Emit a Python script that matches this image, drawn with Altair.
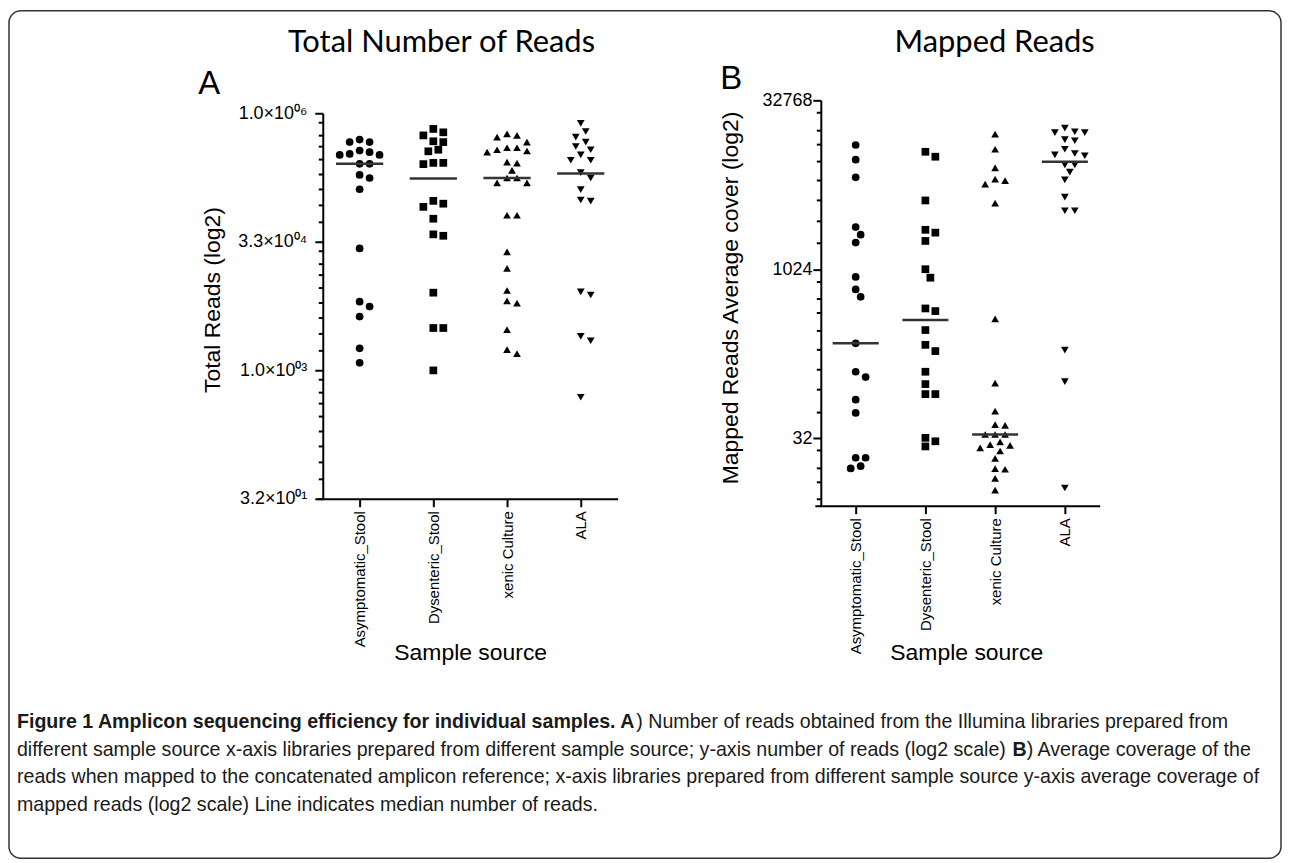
import math
import altair as alt
import pandas as pd

# ---------------- data ----------------
categories = ["Asymptomatic_Stool", "Dysenteric_Stool", "xenic Culture", "ALA"]
shapes = ["circle", "square", "triangle-up", "triangle-down"]

# Panel A: total number of reads
asym_A = [516000, 482000, 482000, 383000, 367000, 350000, 341000, 341000, 268000, 268000,
          199000, 183000, 135000, 27400, 6500, 5700, 4360, 1850, 1250]
dys_A = [687000, 627000, 577000, 492000, 482000, 392000, 376000, 275000, 275000, 266000,
         98700, 91500, 84000, 61000, 40000, 38500, 8300, 3200, 3200, 1020]
xen_A = [602000, 577000, 550000, 482000, 414000, 414000, 392000, 379000, 367000, 281000,
         273000, 225000, 183000, 183000, 160000, 160000, 67000, 67000, 25000, 16000,
         8800, 6650, 6250, 3060, 1790, 1600]
ala_A = [800000, 641000, 550000, 482000, 428000, 392000, 341000, 295000, 295000, 211000,
         183000, 134000, 101000, 98000, 8500, 7800, 2550, 2270, 494]
median_A = [268000, 180000, 183000, 206000]

# Panel B: mapped reads average cover
asym_B = [13100, 9700, 6750, 2430, 2080, 1770, 874, 676, 582, 224, 125, 112, 70.5, 53.7,
          21.4, 21.4, 18, 17.2]
dys_B = [11400, 10300, 4200, 2300, 2170, 1830, 1024, 861, 458, 434, 294, 217, 191, 125,
         97, 79, 79, 32.2, 30, 27]
xen_B = [16400, 12000, 8200, 6500, 6300, 5870, 3980, 370, 99, 55.7, 42.3, 41.6, 34.5, 34.5,
         34.5, 29.7, 28, 27.6, 26.2, 24.6, 21.1, 17.1, 16.9, 14.0, 11.0]
ala_B = [18500, 17200, 16900, 16900, 14600, 14300, 12000, 11000, 10700, 10500, 8700, 8700,
         7500, 6400, 4500, 3400, 3400, 195, 102, 11.5]
median_B = [224, 362, 34.5, 9300]

# axis ticks
major_A = [32, 1024, 32768, 1048576]
major_A_labels = ["3.2×10⁰¹", "1.0×10⁰³", "3.3×10⁰⁴", "1.0×10⁰⁶"]
major_B = [32, 1024, 32768]
major_B_labels = ["32", "1024", "32768"]
minor_steps = [0.36, 0.87, 1.29, 1.80, 2.36, 2.95, 3.56, 4.23]

title_A = "Total Number of Reads"
title_B = "Mapped Reads"
ytitle_A = "Total Reads (log2)"
ytitle_B = "Mapped Reads Average cover (log2)"
xtitle = "Sample source"

caption_lines = [
    [("Figure 1 Amplicon sequencing efficiency for individual samples. A", True),
     (") Number of reads obtained from the Illumina libraries prepared from", False)],
    [("different sample source x-axis libraries prepared from different sample source; "
      "y-axis number of reads (log2 scale) ", False),
     ("B", True),
     (") Average coverage of the", False)],
    [("reads when mapped to the concatenated amplicon reference; x-axis libraries prepared "
      "from different sample source y-axis average coverage of", False)],
    [("mapped reads (log2 scale) Line indicates median number of reads.", False)],
]

# ---------------- layout ----------------
W, H = 1277, 851
FONT = "Liberation Sans"
STUB = 6.0   # px: x axis starts a little left of the y axis, as in the figure

A_xr = [315, 611]
A_yr = [490, 103]
A_dom = [32, 2 ** 20]
B_xr = [815, 1095]
B_yr = [497, 90]
B_dom = [8, 2 ** 15]


def swarm(vals, ypix, unit_px, diam=8.5, step=5.0):
    order = sorted(range(len(vals)), key=lambda i: ypix(vals[i]))
    cands = [0.0] + [s * k * step for k in range(1, 30) for s in (1, -1)]
    placed, offs = [], [0.0] * len(vals)
    for i in order:
        y = ypix(vals[i])
        for c in cands:
            if all((c - px) ** 2 + (y - py) ** 2 >= diam ** 2 for py, px in placed):
                break
        placed.append((y, c))
        offs[i] = c / unit_px
    return offs


def build(groups, dom, yr, xr):
    lo, hi = math.log2(dom[0]), math.log2(dom[1])
    ypix = lambda v: yr[0] + (math.log2(v) - lo) / (hi - lo) * (yr[1] - yr[0])
    unit = (xr[1] - xr[0]) / 4.0
    rows = []
    for k, (cat, vals) in enumerate(zip(categories, groups)):
        offs = swarm(vals, ypix, unit)
        for v, o in zip(vals, offs):
            rows.append({"cat": cat, "value": v, "xpos": k + o})
    return pd.DataFrame(rows)


dfA = build([asym_A, dys_A, xen_A, ala_A], A_dom, A_yr, A_xr)
dfB = build([asym_B, dys_B, xen_B, ala_B], B_dom, B_yr, B_xr)


def minor_values(majors, dom):
    lo, hi = math.log2(dom[0]), math.log2(dom[1])
    return [float(2.0 ** (m - s)) for m in [math.log2(v) for v in majors]
            for s in minor_steps if lo <= m - s <= hi]


def median_frame(medians, half):
    return pd.DataFrame([{"yv": float(m), "x1": i - half, "x2": i + half}
                         for i, m in enumerate(medians)])


medA = median_frame(median_A, 0.32)
medB = median_frame(median_B, 0.33)


def label_expr(vals, labels):
    s = "''"
    for v, l in zip(vals, labels):
        s = f"datum.value == {v} ? '{l}' : ({s})"
    return s


def panel(df, med, dom, yr, xr, majors, labels, ytitle, ytitle_x, ytitle_y,
          xtitle_x, xtitle_y, ylabel_size, ylabel_pad):
    unit = (xr[1] - xr[0]) / 4.0
    xscale = alt.Scale(domain=[-0.5 - STUB / unit, 3.5], range=[xr[0] - STUB, xr[1]],
                       nice=False, zero=False)
    yscale = alt.Scale(type="log", base=2, domain=dom, range=yr, nice=False)
    cat_expr = " : ".join(f"datum.value == {i} ? '{c}'" for i, c in enumerate(categories)) + " : ''"
    xaxis = alt.Axis(
        values=[0, 1, 2, 3], labelExpr=cat_expr, labelAngle=270, orient="bottom",
        offset=yr[0] - H, grid=False, domainColor="black", domainWidth=2,
        tickColor="black", tickWidth=2, tickSize=8, labelFont=FONT, labelFontSize=15,
        labelColor="black", labelPadding=4, labelOverlap=False,
        title=xtitle, titleFont=FONT, titleFontSize=23, titleFontWeight="normal",
        titleColor="black", titleX=xtitle_x, titleY=xtitle_y, titleBaseline="middle",
        titleAlign="center", titleAnchor="start")
    maj = "[" + ",".join(str(v) for v in majors) + "]"
    yvals = sorted(majors + minor_values(majors, dom))
    tsize = {"condition": {"test": f"indexof({maj}, datum.value) >= 0", "value": 8},
             "value": 4.5}
    yaxis = alt.Axis(
        values=yvals, labelExpr=label_expr(majors, labels),
        orient="left", offset=-xr[0], grid=False, domainColor="black", domainWidth=2,
        tickColor="black", tickWidth=2, tickSize=tsize,
        labelFont=FONT, labelFontSize=ylabel_size, labelColor="black",
        labelPadding=ylabel_pad, labelOverlap=False, labelBound=False,
        title=ytitle, titleFont=FONT, titleFontSize=23, titleFontWeight="normal",
        titleColor="black", titleX=ytitle_x, titleY=ytitle_y, titleBaseline="middle",
        titleAlign="center", titleAngle=270, titleAnchor="start")
    pts = alt.Chart(df).mark_point(filled=True, color="black", opacity=1, size=60).encode(
        x=alt.X("xpos:Q", scale=xscale, axis=xaxis),
        y=alt.Y("value:Q", scale=yscale, axis=yaxis),
        shape=alt.Shape("cat:N", scale=alt.Scale(domain=categories, range=shapes), legend=None),
    )
    segs = alt.Chart(med).mark_rule(color="#333333", strokeWidth=2.5, opacity=1).encode(
        x=alt.X("x1:Q", scale=xscale, axis=None),
        x2="x2:Q",
        y=alt.Y("yv:Q", scale=yscale, axis=None),
    )
    return [pts, segs]


pA = panel(dfA, medA, A_dom, A_yr, A_xr, major_A, major_A_labels, ytitle_A,
           -111, 290, 463, 154, 18, 8)
pB = panel(dfB, medB, B_dom, B_yr, B_xr, major_B, major_B_labels, ytitle_B,
           -91, 288, 961, 147, 18, 1)

one = pd.DataFrame({"a": [0]})


def txt(text, x, y, size, font=FONT, weight="normal", align="left", color="black"):
    return alt.Chart(one).mark_text(
        font=font, fontSize=size, fontWeight=weight, align=align, baseline="alphabetic",
        color=color
    ).encode(x=alt.value(x), y=alt.value(y), text=alt.value(text))


# Arial / Liberation Sans advance widths (1/1000 em) for laying caption runs end to end
REG = {" ": 278, "(": 333, ")": 333, ",": 278, "-": 333, ".": 278, ";": 278,
       "A": 667, "B": 667, "F": 611, "I": 278, "L": 556, "N": 722,
       "a": 556, "b": 556, "c": 500, "d": 556, "e": 556, "f": 278, "g": 556, "h": 556,
       "i": 222, "j": 222, "k": 500, "l": 222, "m": 833, "n": 556, "o": 556, "p": 556,
       "q": 556, "r": 333, "s": 500, "t": 278, "u": 556, "v": 500, "w": 722, "x": 500,
       "y": 500, "z": 500}
BOLD = {" ": 278, ".": 278, ")": 333, "A": 722, "B": 722, "F": 611,
        "a": 556, "b": 611, "c": 556, "d": 611, "e": 556, "f": 333, "g": 611, "h": 611,
        "i": 278, "l": 278, "m": 889, "n": 611, "o": 611, "p": 611, "q": 611, "r": 389,
        "s": 556, "t": 333, "u": 611, "v": 556, "w": 778, "x": 556, "y": 556}


def em(text, bold):
    table = BOLD if bold else REG
    return sum(table.get(c, 556) for c in text) / 1000.0


cap_x0, cap_w = 8, 1248
cap_size = cap_w / em(caption_lines[2][0][0], False)
cap_y = [720, 748, 775, 803]
texts = [
    txt(title_A, 280, 42, 31, font="Lato"),
    txt(title_B, 889, 42, 31, font="Lato"),
    txt("A", 190, 84, 33),
    txt("B", 714, 79, 33),
]
for line, y in zip(caption_lines, cap_y):
    x = cap_x0
    for run, bold in line:
        texts.append(txt(run, x, y, cap_size, weight="bold" if bold else "normal",
                         color="#1a1a1a"))
        x += em(run, bold) * cap_size

chart = alt.layer(*pA, *pB, *texts).resolve_scale(
    x="independent", y="independent", shape="independent"
).properties(
    width=W, height=H, padding=1, autosize=alt.AutoSizeParams(type="none")
).configure(
    font=FONT, background="white"
).configure_view(
    stroke="#333333", strokeWidth=1.5, cornerRadius=12
)

chart.save("out.html", embed_options={"renderer": "svg", "actions": False})
